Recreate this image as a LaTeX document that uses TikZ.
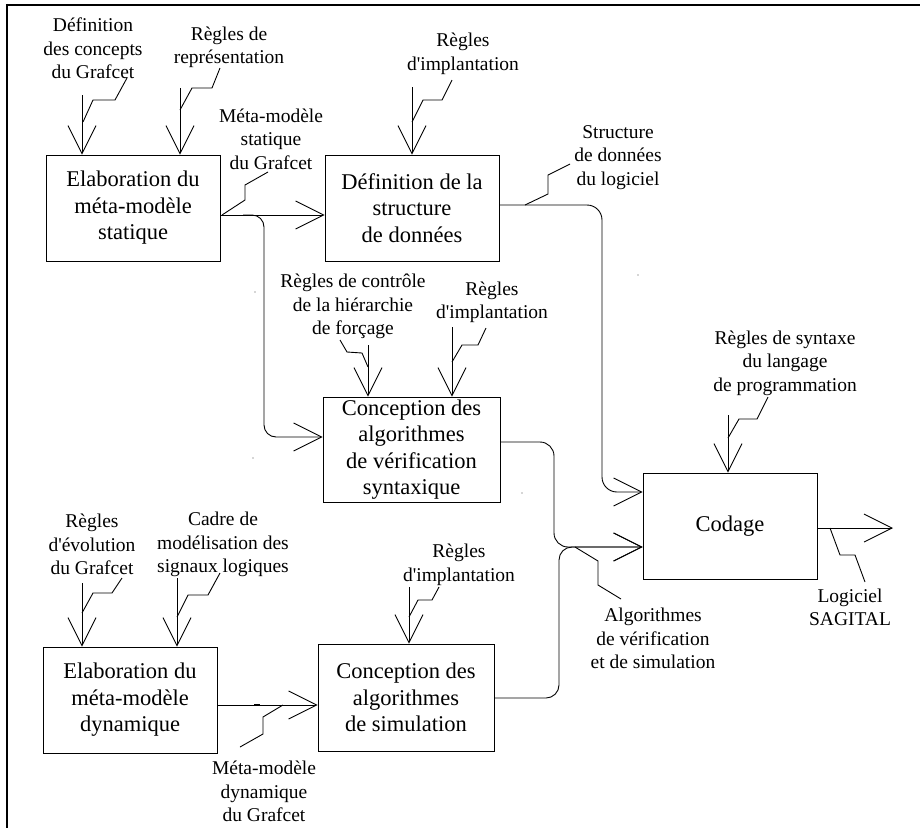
\documentclass[tikz,border=0pt]{standalone}
\usepackage{fontspec}
\setmainfont{Liberation Serif}[Ligatures=TeXOff]
\usetikzlibrary{arrows.meta}
\begin{document}
\begin{tikzpicture}[x=1pt,y=-1pt,
  box/.style={draw, line width=0.9pt, inner sep=0pt, align=center, font=\fontsize{22.5}{26.5}\selectfont},
  lbl/.style={inner sep=0pt, align=center, font=\fontsize{19.5}{23.5}\selectfont},
  arr/.style={line width=0.9pt, -{Straight Barb[length=28pt,width=28pt]}},
  ln/.style={line width=0.9pt},
  frame/.style={line width=2.5pt},
  speck/.style={fill=black!70}]
\useasboundingbox (0,0) rectangle (920,828);
% frame
\draw[frame] (5.75,5) -- (920,5);
\draw[frame] (7,3.75) -- (7,828);

% boxes
\node[box, minimum width=174pt, minimum height=106pt] (b1) at (133,208) {Elaboration du\\méta-modèle\\statique};
\node[box, minimum width=174pt, minimum height=106pt] (b2) at (412,208) {Définition de la\\structure\\de données};
\node[box, minimum width=177pt, minimum height=105pt] (b3) at (411.5,449.5) {Conception des\\algorithmes\\de vérification\\syntaxique};
\node[box, minimum width=174pt, minimum height=106pt] (b4) at (130,700) {Elaboration du\\méta-modèle\\dynamique};
\node[box, minimum width=176pt, minimum height=107pt] (b5) at (406,697.5) {Conception des\\algorithmes\\de simulation};
\node[box, minimum width=174pt, minimum height=106pt] (cod) at (730,526) {Codage};

% labels
\node[lbl] (l1) at (93,48.5) {Définition\\des concepts\\du Grafcet};
\node[lbl] (l2) at (229,47.5) {Règles de\\représentation};
\node[lbl] (l3) at (271,139) {Méta-modèle\\statique\\du Grafcet};
\node[lbl] (l4) at (463,54) {Règles\\d'implantation};
\node[lbl] (l5) at (618,157.5) {Structure\\de données\\du logiciel};
\node[lbl] (l6) at (353,306.5) {Règles de contrôle\\de la hiérarchie\\de forçage};
\node[lbl] (l7) at (492,302.5) {Règles\\d'implantation};
\node[lbl] (l8) at (785,363) {Règles de syntaxe\\du langage\\de programmation};
\node[lbl] (l9) at (92,544.5) {Règles\\d'évolution\\du Grafcet};
\node[lbl] (l10) at (223,544.5) {Cadre de\\modélisation des\\signaux logiques};
\node[lbl] (l11) at (459,565) {Règles\\d'implantation};
\node[lbl] (l12) at (653,638.5) {Algorithmes\\de vérification\\et de simulation};
\node[lbl] (l13) at (850,607.5) {Logiciel\\SAGITAL};
\node[lbl] (l14) at (264,791.5) {Méta-modèle\\dynamique\\du Grafcet};

% input arrows (from top)
\coordinate (a1) at (82,95);  \draw[arr] (a1) -- (a1 |- b1.north);
\coordinate (a2) at (180,88); \draw[arr] (a2) -- (a2 |- b1.north);
\coordinate (a3) at (412,87); \draw[arr] (a3) -- (a3 |- b2.north);
\coordinate (a4) at (368,345); \draw[arr] (a4) -- (a4 |- b3.north);
\coordinate (a5) at (452,327); \draw[arr] (a5) -- (a5 |- b3.north);
\coordinate (a6) at (728,415); \draw[arr] (a6) -- (a6 |- cod.north);
\coordinate (a7) at (82,583);  \draw[arr] (a7) -- (a7 |- b4.north);
\coordinate (a8) at (177,578); \draw[arr] (a8) -- (a8 |- b4.north);
\coordinate (a9) at (409,587); \draw[arr] (a9) -- (a9 |- b5.north);

% flows
\draw[arr] ([yshift=-7pt]b1.east) -- ([yshift=-7pt]b1.east -| b2.west);
\coordinate (j0) at (243,215);
\coordinate (j1) at (264,215);
\coordinate (j1b) at (264,437);
\draw[arr, rounded corners=12pt] (j0) -- (j1) -- (j1b) -- (j1b -| b3.west);
\coordinate (j2) at (602,205);
\coordinate (j3) at (602,492);
\draw[arr, rounded corners=15pt] ([yshift=3pt]b2.east) -- (j2) -- (j3) -- (j3 -| cod.west);
\coordinate (j4) at (554,442);
\coordinate (j5) at (554,547);
\draw[arr, rounded corners=14pt] ([yshift=7.5pt]b3.east) -- (j4) -- (j5) -- (j5 -| cod.west);
\coordinate (j6) at (559,698);
\coordinate (j7) at (559,547);
\draw[arr, rounded corners=13pt] (b5.east |- j6) -- (j6) -- (j7) -- (j7 -| cod.west);
\draw[arr] ([yshift=-7.5pt]b5.west -| b4.east) -- ([yshift=-7.5pt]b5.west);
\draw[line width=2pt] (254,705) -- (260,705);
\coordinate (out) at (893,528);
\draw[arr] (cod.east |- out) -- (out);

% label leaders
\draw[ln] (83,122) -- (93,100) -- (115,100) -- (127,78);
\draw[ln] (180,110) -- (192,88) -- (212,88) -- (220,68);
\draw[ln] (222,215) -- (245,200) -- (245,185) -- (268,172);
\draw[ln] (412,122) -- (423,100) -- (442,100) -- (452,80);
\draw[ln] (525,205) -- (548,194) -- (548,175) -- (570,164);
\draw[ln] (340,340) -- (347,352) -- (362,353) -- (368,367);
\draw[ln] (452,362) -- (462,345) -- (478,345) -- (486,328);
\draw[ln] (728,438) -- (739,419) -- (757,419) -- (768,397);
\draw[ln] (82,613) -- (93,593) -- (112,593) -- (122,578);
\draw[ln] (177,617) -- (188,595) -- (208,595) -- (220,573);
\draw[ln] (409,617) -- (418,600) -- (432,600) -- (439,587);
\draw[ln] (575,547) -- (598,561) -- (598,585) -- (621,599);
\draw[ln] (830,528) -- (840,555) -- (855,555) -- (865,582);
\draw[ln] (283,705) -- (263,717) -- (263,734) -- (240,747);

% stray specks of the original scan
\fill[speck] (255,292) circle (0.7pt);
\fill[speck] (253,458) circle (0.7pt);
\fill[speck] (522,493) circle (0.7pt);
\fill[speck] (638,275) circle (0.7pt);
\end{tikzpicture}
\end{document}
